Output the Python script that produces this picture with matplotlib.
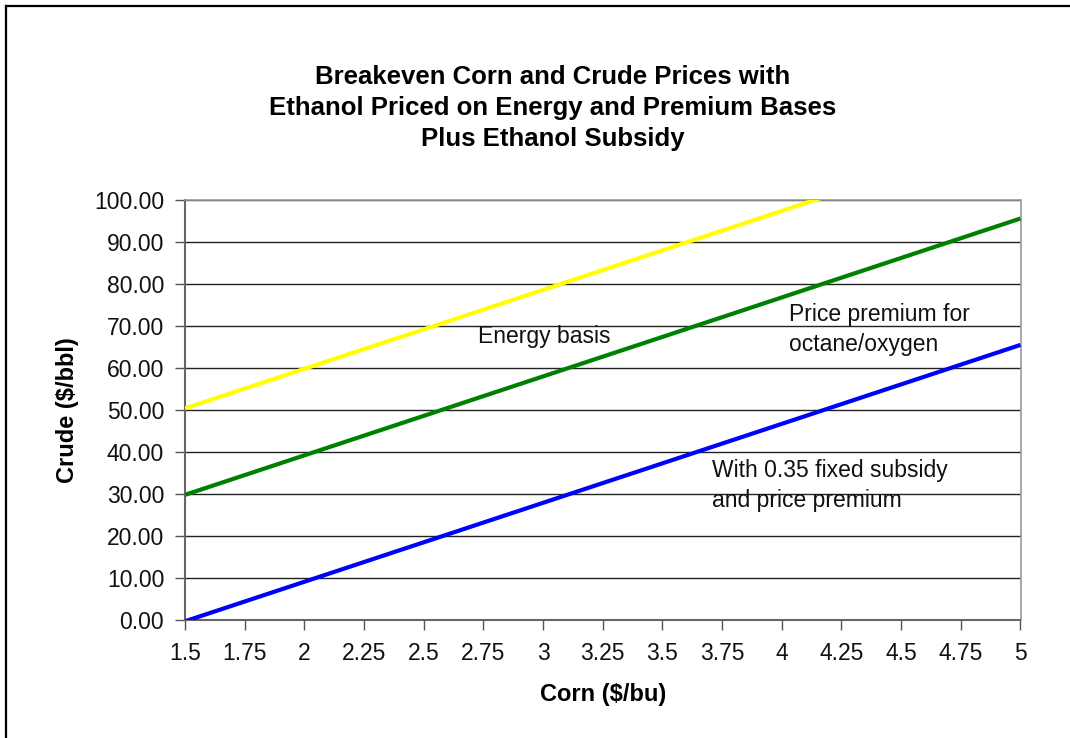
import numpy as np
import matplotlib.pyplot as plt
from matplotlib.lines import Line2D

# Data (corn price vs breakeven crude price)
corn = [1.5, 1.75, 2.0, 2.25, 2.5, 2.75, 3.0, 3.25, 3.5, 3.75, 4.0, 4.25, 4.5, 4.75, 5.0]
energy_basis = [50.4, 55.1, 59.8, 64.5, 69.2, 73.9, 78.6, 83.3, 88.0, 92.7, 97.4, 102.1, 106.8, 111.5, 116.2]
price_premium = [29.8, 34.5, 39.2, 43.9, 48.6, 53.3, 58.0, 62.7, 67.4, 72.1, 76.8, 81.5, 86.2, 90.9, 95.6]
subsidy_premium = [-0.3, 4.4, 9.1, 13.8, 18.5, 23.2, 27.9, 32.6, 37.3, 42.0, 46.7, 51.4, 56.1, 60.8, 65.5]

x_ticks = [1.5, 1.75, 2, 2.25, 2.5, 2.75, 3, 3.25, 3.5, 3.75, 4, 4.25, 4.5, 4.75, 5]
x_tick_labels = ['1.5', '1.75', '2', '2.25', '2.5', '2.75', '3', '3.25', '3.5', '3.75', '4', '4.25', '4.5', '4.75', '5']
y_ticks = [0, 10, 20, 30, 40, 50, 60, 70, 80, 90, 100]

plt.rcParams['font.family'] = ['Liberation Sans', 'DejaVu Sans']

W, H = 1070, 738
fig = plt.figure(figsize=(W / 100, H / 100), dpi=100)
ax = fig.add_axes([185 / W, 1 - 620 / H, (1020.5 - 185) / W, (620 - 200) / H])

ax.plot(corn, energy_basis, color='#FFFF00', lw=3, solid_capstyle='butt', zorder=3)
ax.plot(corn, price_premium, color='#008000', lw=3, solid_capstyle='butt', zorder=3)
ax.plot(corn, subsidy_premium, color='#0000FF', lw=3, solid_capstyle='butt', zorder=3)

ax.set_xlim(1.5, 5)
ax.set_ylim(0, 100)
ax.set_xticks(x_ticks)
ax.set_xticklabels(x_tick_labels)
ax.set_yticks(y_ticks)
ax.set_yticklabels([f'{v:.2f}' for v in y_ticks])
ax.tick_params(axis='both', direction='out', length=7, width=1, color='#555555',
               labelsize=16.5, labelcolor='#111111')
ax.tick_params(axis='y', pad=8)
ax.tick_params(axis='x', pad=9)
ax.grid(axis='y', color='#222222', lw=1)
ax.set_axisbelow(True)

for side in ['left', 'bottom']:
    ax.spines[side].set_color('#666666')
    ax.spines[side].set_linewidth(1.5)
for side in ['top', 'right']:
    ax.spines[side].set_color('#999999')
    ax.spines[side].set_linewidth(1.2)

ax.set_xlabel('Corn ($/bu)', fontsize=17, fontweight='bold', va='center')
ax.set_ylabel('Crude ($/bbl)', fontsize=17, fontweight='bold', va='center')
ax.xaxis.set_label_coords(0.5, -(695 - 620) / 420)
ax.yaxis.set_label_coords((68 - 185) / 835.5, 0.5)

ax.text(2.728, 67.4, 'Energy basis', fontsize=16.5, ha='left', va='center', color='#111111')
ax.text(4.031, 69.2, 'Price premium for\noctane/oxygen', fontsize=16.5, ha='left', va='center',
        color='#111111', linespacing=1.4)
ax.text(3.709, 32.0, 'With 0.35 fixed subsidy\nand price premium', fontsize=16.5, ha='left',
        va='center', color='#111111', linespacing=1.4)

fig.text(553 / W, 1 - 108 / H,
         'Breakeven Corn and Crude Prices with\nEthanol Priced on Energy and Premium Bases\nPlus Ethanol Subsidy',
         fontsize=18.5, fontweight='bold', ha='center', va='center', linespacing=1.38)

# outer chart frame (only top and left edges fall inside the image)
fig.add_artist(Line2D([5.5 / W, 5.5 / W], [0, 1 - 6 / H], color='black', lw=1.6))
fig.add_artist(Line2D([5.5 / W, 1], [1 - 6 / H, 1 - 6 / H], color='black', lw=1.6))

fig.savefig('out.png', dpi=100)
